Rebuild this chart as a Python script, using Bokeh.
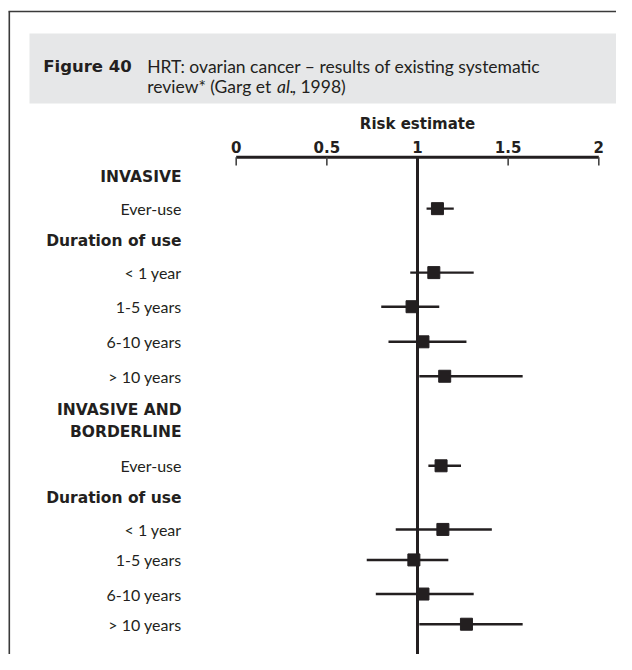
from bokeh.plotting import figure
from bokeh.models import Range1d, ColumnDataSource
from bokeh.core.properties import value
from bokeh.embed import file_html
from bokeh.resources import INLINE

# ---------------- data ----------------
row_labels = ["INVASIVE", "Ever-use", "Duration of use", "< 1 year", "1-5 years",
              "6-10 years", "> 10 years", "INVASIVE AND", "BORDERLINE", "Ever-use",
              "Duration of use", "< 1 year", "1-5 years", "6-10 years", "> 10 years"]
row_bold = [True, False, True, False, False, False, False, True, True, False,
            True, False, False, False, False]
row_pos = [0, 0.98, 1.98, 2.93, 3.97, 5.04, 6.09, 7.13, 7.80, 8.82,
           9.79, 10.76, 11.69, 12.73, 13.65]

est_row = [1, 3, 4, 5, 6, 9, 11, 12, 13, 14]          # index into row_labels
risk = [1.11, 1.09, 0.97, 1.03, 1.15, 1.13, 1.14, 0.98, 1.03, 1.27]
lower = [1.05, 0.96, 0.80, 0.84, 1.01, 1.06, 0.88, 0.72, 0.77, 1.01]
upper = [1.20, 1.31, 1.12, 1.27, 1.58, 1.24, 1.41, 1.17, 1.31, 1.58]

tick_values = [0, 0.5, 1, 1.5, 2]
tick_labels = ["0", "0.5", "1", "1.5", "2"]
axis_title = "Risk estimate"
reference_value = 1

fig_label = "Figure 40"
title_line1 = "HRT: ovarian cancer \u2013 results of existing systematic"
title_line2a = "review* (Garg et"
title_line2b = "al."
title_line2c = ", 1998)"

# ---------------- layout helpers (page pixels -> data units) ----------------
W, H = 616, 654
OFF = 0
X0, UX = 235.7, 181.3      # page px of x=0, px per unit
Y0, UY = 176.0, 32.8       # page px of row 0, px per row unit


def dx(px):
    return (px - X0) / UX


def dy(py):
    return (py - Y0) / UY


INK = "#231f20"
FONT = value("Lato")
BFONT = value("DejaVu Sans")

p = figure(width=W, height=H, output_backend="svg", toolbar_location=None,
           x_range=Range1d(dx(OFF), dx(OFF + W)), y_range=Range1d(dy(OFF + H), dy(OFF)),
           x_axis_location=None, y_axis_location=None, min_border=0,
           background_fill_color="white", border_fill_color="white")
p.grid.visible = False
p.outline_line_color = None

# frame lines (top + left)
p.segment(x0=[dx(8), dx(8.8)], y0=[dy(11), dy(11)], x1=[dx(640), dx(8.8)], y1=[dy(11), dy(700)],
          line_color="#3a3a3a", line_width=1.6)

# title band
p.quad(left=[dx(29)], right=[dx(617)], top=[dy(33)], bottom=[dy(103)],
       fill_color="#e6e7e8", line_color=None)
p.text(x=[dx(42.7)], y=[dy(66)], text=[fig_label], text_font=BFONT, text_font_size="16.5px",
       text_font_style="bold", text_color=INK, text_baseline="alphabetic")
p.text(x=[dx(146.7)], y=[dy(66)], text=[title_line1], text_font=FONT, text_font_size="17.5px",
       text_color=INK, text_baseline="alphabetic")
p.text(x=[dx(146.7)], y=[dy(86)], text=[title_line2a], text_font=FONT, text_font_size="17.5px",
       text_color=INK, text_baseline="alphabetic")
p.text(x=[dx(276.5)], y=[dy(86)], text=[title_line2b], text_font=FONT, text_font_size="17.5px",
       text_font_style="italic", text_color=INK, text_baseline="alphabetic")
p.text(x=[dx(291.5)], y=[dy(86)], text=[title_line2c], text_font=FONT, text_font_size="17.5px",
       text_color=INK, text_baseline="alphabetic")

# axis on top
axis_y = dy(156.7)
tick_end = dy(165)
p.segment(x0=[tick_values[0]], x1=[tick_values[-1]], y0=[axis_y], y1=[axis_y],
          line_color=INK, line_width=3)
p.segment(x0=tick_values, x1=tick_values, y0=[axis_y] * len(tick_values),
          y1=[tick_end] * len(tick_values), line_color="#444444", line_width=1.6)
p.text(x=tick_values, y=[dy(146)] * len(tick_values), text=tick_labels, text_font=BFONT,
       text_font_size="15px", text_font_style="bold", text_color=INK,
       text_align="center", text_baseline="alphabetic")
p.text(x=[(tick_values[0] + tick_values[-1]) / 2], y=[dy(123.5)], text=[axis_title],
       text_font=BFONT, text_font_size="15px", text_font_style="bold", text_color=INK,
       text_align="center", text_baseline="alphabetic")

# reference line
p.segment(x0=[reference_value], x1=[reference_value], y0=[axis_y], y1=[dy(658)],
          line_color=INK, line_width=3)

# row labels
norm = [i for i, b in enumerate(row_bold) if not b]
bold = [i for i, b in enumerate(row_bold) if b]
lab_x = dx(181)
p.text(x=[lab_x] * len(norm), y=[row_pos[i] for i in norm], text=[row_labels[i] for i in norm],
       text_font=FONT, text_font_size="16px", text_color=INK, text_align="right",
       text_baseline="middle")
p.text(x=[lab_x] * len(bold), y=[row_pos[i] for i in bold], text=[row_labels[i] for i in bold],
       text_font=BFONT, text_font_size="15.5px", text_font_style="bold", text_color=INK,
       text_align="right", text_baseline="middle")

# estimates
src = ColumnDataSource(dict(y=[row_pos[i] for i in est_row], risk=risk, lower=lower, upper=upper))
p.segment(x0="lower", x1="upper", y0="y", y1="y", source=src, line_color=INK, line_width=2.4)
p.scatter(x="risk", y="y", source=src, marker="square", size=12, fill_color=INK, line_color=INK)

open("out.html", "w").write(file_html(p, INLINE))
